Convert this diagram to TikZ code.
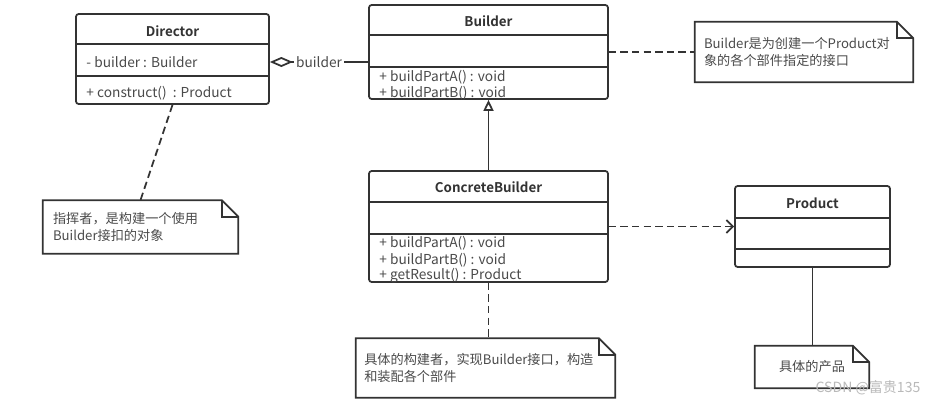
\documentclass[tikz,border=0pt]{standalone}
\usepackage{fontspec}
\setmainfont{Noto Sans CJK SC}[BoldFont={Noto Sans CJK SC Bold}]
\usetikzlibrary{positioning,arrows.meta}

\definecolor{linec}{HTML}{333333}
\definecolor{textc}{HTML}{4A4A4A}
\tikzset{
  umlbox/.style = {draw = linec, line width = 1pt, rounded corners = 1.5pt, fill = white, inner sep = 0pt},
  umlline/.style = {draw = linec, line width = 1pt},
  umltitle/.style = {font = \bfseries\fontsize{7.6}{8}\selectfont, text = linec},
  umltext/.style = {font = \fontsize{7.8}{8}\selectfont, text = textc, anchor = west, inner sep = 0pt},
  notebox/.style = {inner sep = 0pt, align = left, font = \fontsize{7.5}{10}\selectfont, text = textc},
  noteline/.style = {draw = linec, line width = 1pt, line join = miter},
  dashline/.style = {draw = linec, line width = 1pt, dash pattern = on 4.2pt off 2.4pt}
}

\begin{document}
\begin{tikzpicture}[x = 0.02cm, y = -0.02cm]
\useasboundingbox (0,0) rectangle (938,406);

% Director
\node[umlbox, minimum width = 3.86cm, minimum height = 1.8cm] (director) at (172.5,59) {};
\node[umltitle] (dtitle) at (director.north |- 0,31) {Director};
\node[umltext] (dattr) at ([xshift = 0.22cm]director.west |- 0,62) {- builder : Builder};
\node[umltext] (dop) at (dattr.west |- 0,93) {+ construct()\ \ : Product};
\draw[umlline] (director.west |- 0,44) -- (director.east |- 0,44);
\draw[umlline] (director.west |- 0,76) -- (director.east |- 0,76);

% Builder
\node[umlbox, minimum width = 4.78cm, minimum height = 1.88cm] (builder) at (488.5,52) {};
\node[umltitle] (btitle) at (builder.north |- 0,21) {Builder};
\node[umltext] (bop1) at ([xshift = 0.22cm]builder.west |- 0,77) {+ buildPartA() : void};
\node[umltext] (bop2) at (bop1.west |- 0,93) {+ buildPartB() : void};
\draw[umlline] (builder.west |- 0,35) -- (builder.east |- 0,35);
\draw[umlline] (builder.west |- 0,67) -- (builder.east |- 0,67);

% ConcreteBuilder
\node[umlbox, minimum width = 4.78cm, minimum height = 2.22cm] (cbuilder) at (488.5,226.5) {};
\node[umltitle] (ctitle) at (cbuilder.north |- 0,187) {ConcreteBuilder};
\node[umltext] (cop1) at ([xshift = 0.22cm]cbuilder.west |- 0,243) {+ buildPartA() : void};
\node[umltext] (cop2) at (cop1.west |- 0,260) {+ buildPartB() : void};
\node[umltext] (cop3) at (cop1.west |- 0,276) {+ getResult() : Product};
\draw[umlline] (cbuilder.west |- 0,202) -- (cbuilder.east |- 0,202);
\draw[umlline] (cbuilder.west |- 0,234) -- (cbuilder.east |- 0,234);

% Product
\node[umlbox, minimum width = 3.1cm, minimum height = 1.62cm] (product) at (812.5,226.5) {};
\node[umltitle] (ptitle) at (product.north |- 0,203) {Product};
\draw[umlline] (product.west |- 0,218) -- (product.east |- 0,218);
\draw[umlline] (product.west |- 0,249) -- (product.east |- 0,249);

% notes
\node[notebox, minimum width = 4.36cm, minimum height = 1.2cm, text width = 4cm] (bnote) at (804,52) {Builder是为创建一个Product对\\象的各个部件指定的接口};
\node[notebox, minimum width = 3.9cm, minimum height = 1.06cm, text width = 3.5cm] (dnote) at (140.5,227) {指挥者，是构建一个使用\\Builder接扣的对象};
\node[notebox, minimum width = 5.18cm, minimum height = 1.18cm, text width = 4.85cm] (cnote) at (485.5,368) {具体的构建者，实现Builder接口，构造\\和装配各个部件};
\node[notebox, minimum width = 2.28cm, minimum height = 0.84cm, align = center] (pnote) at (812,367) {具体的产品};
\foreach \n in {bnote, dnote, cnote, pnote} {
  \draw[noteline] (\n.south west) -- (\n.north west) -- ([xshift = -0.33cm]\n.north east)
    -- ([yshift = -0.33cm]\n.north east) -- (\n.south east) -- cycle;
  \draw[noteline] ([xshift = -0.33cm]\n.north east) -- ([xshift = -0.33cm, yshift = -0.33cm]\n.north east)
    -- ([yshift = -0.33cm]\n.north east);
}

% connectors
\draw[umlline, {Diamond[open, length = 0.46cm, width = 0.2cm]}-] (director.east |- dattr) -- (builder.west |- dattr)
  node[midway, fill = white, inner sep = 1pt, font = \fontsize{7.8}{8}\selectfont, text = textc] (agg) {builder};
\draw[umlline, -{Triangle[open, length = 0.22cm, width = 0.2cm]}] (cbuilder.north) -- (builder.south);
\draw[dashline, -{Straight Barb[length = 0.13cm, width = 0.26cm]}] (cbuilder.east) -- (product.west);
\draw[dashline] (builder.east) -- (bnote.west);
\draw[dashline] (director.south) -- (dnote.north);
\draw[dashline] (cbuilder.south) -- (cbuilder.south |- cnote.north);
\draw[umlline] (product.south) -- (product.south |- pnote.north);

\node[text = gray!55, font = \fontsize{8}{9}\selectfont, inner sep = 0pt] (mark) at (868,388) {CSDN @富贵135};
\end{tikzpicture}
\end{document}
